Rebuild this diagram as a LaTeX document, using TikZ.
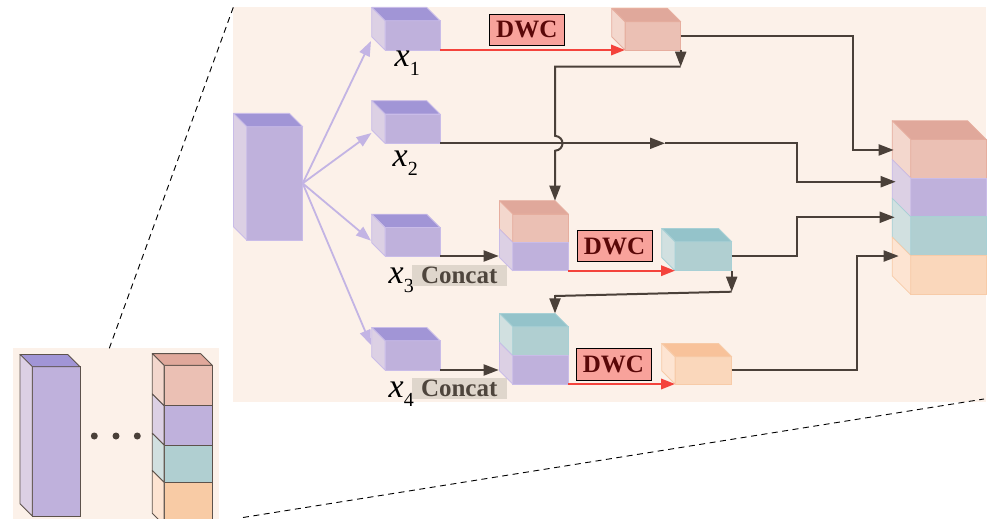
\documentclass[tikz,border=0pt]{standalone}
\usepackage{fontspec}
\setmainfont{Liberation Serif}
\usetikzlibrary{arrows.meta,calc}

\definecolor{bg}{HTML}{FCF1E9}
\definecolor{purF}{HTML}{BFB1DC}
\definecolor{purT}{HTML}{A195D6}
\definecolor{purS}{HTML}{DCD0E4}
\definecolor{purL}{HTML}{C9BCE8}
\definecolor{redF}{HTML}{EBC0B4}
\definecolor{redT}{HTML}{E0A89B}
\definecolor{redS}{HTML}{F3D7CD}
\definecolor{redL}{HTML}{E6AE9F}
\definecolor{teaF}{HTML}{B0CFD1}
\definecolor{teaT}{HTML}{94C3CA}
\definecolor{teaS}{HTML}{D1E0E0}
\definecolor{teaL}{HTML}{A8D0D5}
\definecolor{oraF}{HTML}{FAD7BB}
\definecolor{oraT}{HTML}{F8C29A}
\definecolor{oraS}{HTML}{FDE4D2}
\definecolor{oraL}{HTML}{F7CBA8}
\definecolor{oriF}{HTML}{F8CBA5}
\definecolor{ink}{HTML}{4A4039}
\definecolor{redArrow}{HTML}{F4433C}
\definecolor{fanC}{HTML}{C3B4E4}
\definecolor{dwcFill}{HTML}{F8A29B}
\definecolor{dwcText}{HTML}{5A0808}
\definecolor{catFill}{HTML}{DFD6CC}
\definecolor{catText}{HTML}{4E453D}
\definecolor{edge}{HTML}{5D524B}

% top and left faces of a cuboid whose front face is node #1, depth #2
\newcommand\cubetop[4]{\filldraw[fill=#3,draw=#4,line width=0.8pt,line join=round]
  (#1.north west) -- (#1.north east) -- ($(#1.north east)+(-#2,-#2)$) -- ($(#1.north west)+(-#2,-#2)$) -- cycle;}
\newcommand\cubeside[4]{\filldraw[fill=#3,draw=#4,line width=0.8pt,line join=round]
  (#1.north west) -- ($(#1.north west)+(-#2,-#2)$) -- ($(#1.south west)+(-#2,-#2)$) -- (#1.south west) -- cycle;}

\tikzset{
  panel/.style={rectangle, fill=bg, draw=none, inner sep=0pt, outer sep=0pt},
  front/.style={rectangle, inner sep=0pt, outer sep=0pt, line width=0.8pt, fill=#1F, draw=#1L},
  arr/.style={draw=ink, line width=2pt, -{Triangle[length=15pt,width=11pt]}},
  redarr/.style={draw=redArrow, line width=2pt, -{Triangle[length=14pt,width=10.5pt]}},
  fan/.style={draw=fanC, line width=1.8pt, -{Triangle[length=15pt,width=11pt]}},
  dwc/.style={rectangle, draw=black, line width=1pt, fill=dwcFill, text=dwcText,
    font=\fontsize{25}{25}\selectfont\bfseries, inner sep=0pt,
    minimum width=75pt, minimum height=31.5pt},
  concat/.style={rectangle, fill=catFill, text=catText,
    font=\fontsize{25}{25}\selectfont\bfseries, inner sep=0pt,
    minimum width=95pt, minimum height=21pt},
  lab/.style={anchor=base west, inner sep=0pt, font=\fontsize{34}{34}\selectfont\itshape},
  dot/.style={circle, fill=ink, inner sep=0pt, minimum size=7pt},
}
\newcommand\subidx[1]{\raisebox{-9pt}{\upshape\fontsize{20}{20}\selectfont #1}}

\begin{document}
\begin{tikzpicture}[x=1pt,y=-1pt]
\useasboundingbox (0,0) rectangle (989,519);

% panels
\node[panel, minimum width=752.7pt, minimum height=394.2pt] (mainpanel) at (609.65,204.4) {};
\node[panel, minimum width=206.6pt, minimum height=176.7pt] (insetpanel) at (116,436.65) {};

% zoom guides
\coordinate (zb) at (243,517.5);
\draw[dashed, dash pattern=on 6pt off 4.5pt, line width=0.9pt]
  (mainpanel.north west) -- ($(insetpanel.north west)+(96.6,0)$);
\draw[dashed, dash pattern=on 6pt off 4.5pt, line width=0.9pt]
  (zb) -- ($(mainpanel.south east)+(-2,-2.5)$);

% ---- inset: input block and stacked output ----
\node[front=pur, draw=edge, minimum width=47.7pt, minimum height=149.3pt] (tall) at (56.15,441.35) {};
\cubetop{tall}{12.3}{purT}{edge}
\cubeside{tall}{12.3}{purS}{edge}

\node[front=red, draw=edge, minimum width=48.3pt, minimum height=40.4pt] (s1) at (188.15,385.5) {};
\node[front=pur, draw=edge, minimum width=48.3pt, minimum height=39.3pt] (s2) at (188.15,425.35) {};
\node[front=tea, draw=edge, minimum width=48.3pt, minimum height=37.3pt] (s3) at (188.15,463.65) {};
\node[front=ora, fill=oriF, draw=edge, minimum width=48.3pt, minimum height=42.7pt] (s4) at (188.15,503.65) {};
\cubetop{s1}{11.7}{redT}{edge}
\cubeside{s1}{11.7}{redS}{edge}
\cubeside{s2}{11.7}{purS}{edge}
\cubeside{s3}{11.7}{teaS}{edge}
\cubeside{s4}{11.7}{oraS}{edge}

\node[dot] (d1) at (94.3,436) {};
\node[dot] (d2) at (116,436) {};
\node[dot] (d3) at (137.3,436) {};

% ---- main panel ----
% input
\node[front=pur, minimum width=56pt, minimum height=113.3pt] (inp) at (274.7,183.35) {};
\cubetop{inp}{13.3}{purT}{purL}
\cubeside{inp}{13.3}{purS}{purL}

% split parts
\node[front=pur, minimum width=55pt, minimum height=29.3pt] (x1) at (412.5,35.35) {};
\node[front=pur, minimum width=55pt, minimum height=29.3pt] (x2) at (412.5,128.65) {};
\node[front=pur, minimum width=55pt, minimum height=28.5pt] (x3) at (412.5,241.75) {};
\node[front=pur, minimum width=55pt, minimum height=29.3pt] (x4) at (412.5,355.35) {};
\foreach \n in {x1,x2,x3,x4}{\cubetop{\n}{13.3}{purT}{purL}\cubeside{\n}{13.3}{purS}{purL}}

\node[lab] (l1) at (394.5,67) {x\subidx{1}};
\node[lab] (l2) at (392.5,166.5) {x\subidx{2}};
\node[lab] (l3) at (388.5,283.3) {x\subidx{3}};
\node[lab] (l4) at (388.5,397) {x\subidx{4}};

\node[concat] (k3) at (459.2,275.35) {Concat};
\node[concat] (k4) at (459.2,388.65) {Concat};

% concatenated stacks
\node[front=red, minimum width=55.6pt, minimum height=28.3pt] (c1t) at (540.5,228.15) {};
\node[front=pur, minimum width=55.6pt, minimum height=28.4pt] (c1b) at (540.5,256.5) {};
\cubetop{c1t}{13.3}{redT}{redL}
\cubeside{c1t}{13.3}{redS}{redL}
\cubeside{c1b}{13.3}{purS}{purL}

\node[front=tea, minimum width=55.6pt, minimum height=29pt] (c2t) at (540.5,341.2) {};
\node[front=pur, minimum width=55.6pt, minimum height=28.3pt] (c2b) at (540.5,369.85) {};
\cubetop{c2t}{13.3}{teaT}{teaL}
\cubeside{c2t}{13.3}{teaS}{teaL}
\cubeside{c2b}{13.3}{purS}{purL}

% depthwise convolution outputs
\node[front=red, minimum width=55.7pt, minimum height=28.3pt] (r1) at (652.85,35.85) {};
\cubetop{r1}{13.3}{redT}{redL}
\cubeside{r1}{13.3}{redS}{redL}
\node[front=tea, minimum width=56.7pt, minimum height=29pt] (t3) at (703.35,256.2) {};
\cubetop{t3}{13.3}{teaT}{teaL}
\cubeside{t3}{13.3}{teaS}{teaL}
\node[front=ora, minimum width=56.7pt, minimum height=27.3pt] (f4) at (703.35,370.35) {};
\cubetop{f4}{13.3}{oraT}{oraL}
\cubeside{f4}{13.3}{oraS}{oraL}

\node[dwc] (w1) at (526.8,29.85) {DWC};
\node[dwc] (w3) at (614.5,246.2) {DWC};
\node[dwc] (w4) at (613.5,364.3) {DWC};

% final stacked output
\node[front=red, minimum width=75.3pt, minimum height=38.75pt] (o1) at (948.35,158.65) {};
\node[front=pur, minimum width=75.3pt, minimum height=38.75pt] (o2) at (948.35,197.4) {};
\node[front=tea, minimum width=75.3pt, minimum height=38.75pt] (o3) at (948.35,236.15) {};
\node[front=ora, minimum width=75.3pt, minimum height=38.75pt] (o4) at (948.35,274.9) {};
\cubetop{o1}{18.5}{redT}{redL}
\cubeside{o1}{18.5}{redS}{redL}
\cubeside{o2}{18.5}{purS}{purL}
\cubeside{o3}{18.5}{teaS}{teaL}
\cubeside{o4}{18.5}{oraS}{oraL}

% split arrows
\draw[fan] (inp.east) -- ($(x1.south west)+(-14,-9)$);
\draw[fan] (inp.east) -- ($(x2.south west)+(-13.5,-10.3)$);
\draw[fan] (inp.east) -- ($(x3.south west)+(-14,-15.3)$);
\draw[fan] (inp.east) -- ($(x4.south west)+(-14,-25)$);

% DWC arrows
\draw[redarr] (x1.south east) -- (r1.south west);
\draw[redarr] (c1b.south east) -- (t3.south west);
\draw[redarr] (c2b.south east) -- (f4.south west);

% into the concat stacks
\coordinate (c1in) at ($(c1b.south west)+(-14,-13.3)$);
\coordinate (c2in) at ($(c2b.south west)+(-14,-13.3)$);
\draw[arr] (x3.south east) -- (x3.south east -| c1in);
\draw[arr] (x4.south east) -- (x4.south east -| c2in);

% feedback of the first DWC output into the first concat
\coordinate (c1top) at ($(c1t.north east)+(-13.3,-13.3)$);
\coordinate (j1) at ($(r1.south east)+(0,16.7)$);
\coordinate (m2) at ($(x2.south east)+(225,0)$);
\coordinate (hopA) at ($(c1top |- m2)+(0,-7.5)$);
\coordinate (hopB) at ($(c1top |- m2)+(0,7.5)$);
\draw[arr] (r1.south east) -- (j1);
\draw[arr] (j1) -- (j1 -| c1top) -- (hopA) .. controls +(10,1) and +(10,-1) .. (hopB) -- (c1top);

% feedback of the second DWC output into the second concat
\coordinate (c2top) at ($(c2t.north east)+(-13.3,-13.3)$);
\coordinate (j3) at ($(t3.south east)+(0,21)$);
\draw[arr] (t3.south east) -- (j3);
\draw[arr] (j3) -- ($(c2top)+(0,-17.4)$) -- (c2top);

% routes to the final stack
\coordinate (tip1) at ($(o1.north west)+(-17,10.7)$);
\coordinate (tip2) at ($(o2.north west)+(-15,3.7)$);
\coordinate (tip3) at ($(o3.north west)+(-16,0.5)$);
\coordinate (tip4) at ($(o4.north west)+(-12,0.5)$);
\draw[arr] (r1.east) -- ++(172.6,0) |- (tip1);
\draw[arr] (x2.south east) -- (m2);
\draw[arr] (m2) -- ++(131.7,0) |- (tip2);
\draw[arr] (t3.east) -- ++(65,0) |- (tip3);
\draw[arr] (f4.east) -- ++(125.6,0) |- (tip4);
\end{tikzpicture}
\end{document}
